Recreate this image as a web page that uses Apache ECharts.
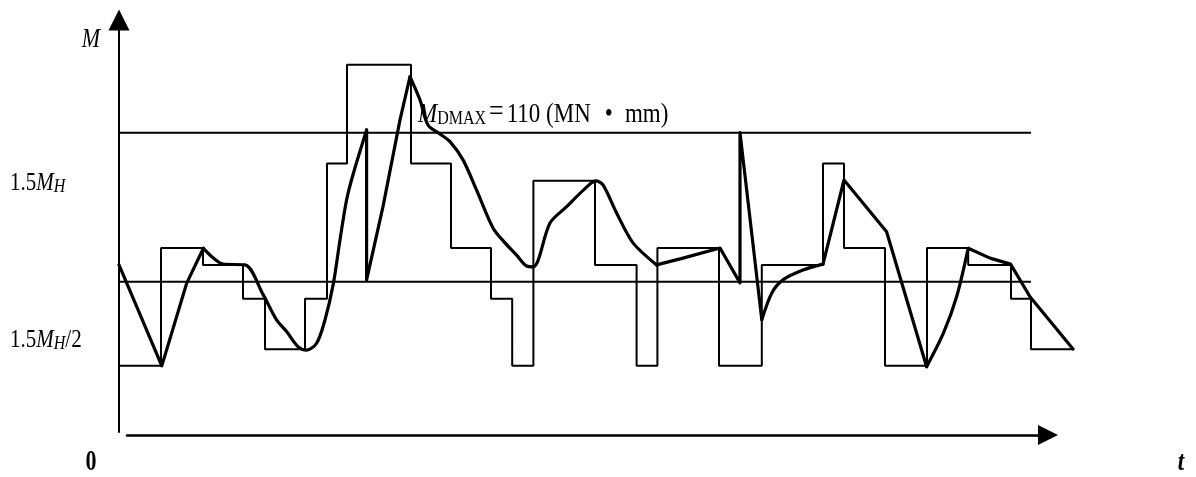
<!DOCTYPE html>
<html>
<head>
<meta charset="utf-8">
<script src="https://cdn.jsdelivr.net/npm/echarts@6/dist/echarts.min.js"></script>
<style>
html,body{margin:0;padding:0;background:#fff;}
#c{width:1196px;height:477px;}
</style>
</head>
<body>
<div id="c"></div>
<script>
// ---- data (t in arbitrary time units, M in MN·mm) ----
const stepT = [0, 10.5, 21, 31, 36.5, 46.5, 52, 57, 73, 83, 93, 98.3, 103.6, 119, 129.4, 134.6, 150, 160.7, 176, 181.25, 191.5, 202, 212.3, 223, 228, 238.6];
const stepM = [24.3, 67.6, 61.4, 49, 30.4, 49, 98.7, 135, 98.7, 67.6, 49, 24.3, 92.3, 61.4, 24.3, 67.6, 24.3, 61.4, 98.7, 67.6, 24.3, 67.6, 61.4, 49, 30.4, 30.4];

const curveT = [0, 10.7, 16.9, 21.1, 23.6, 26, 31.5, 36.1, 39.4, 41.9, 44.8, 46.9, 49.4, 51.5, 53.6, 55.25, 56.9, 58.6, 61.9, 61.9, 66, 70.25, 72.75, 75.25, 77.25, 80.25, 82.75, 86, 89.4, 93.5, 96.5, 99.4, 101.9, 103.6, 107.75, 111.9, 116.1, 119.2, 121, 124.4, 128.5, 134.4, 141, 150.25, 155.25, 155.25, 160.7, 163.2, 166, 171, 176, 181.25, 191.9, 201.9, 206.1, 209.4, 212.3, 217.75, 222.9, 227.75, 238.5];
const curveM = [61.4, 24.3, 54.6, 67.5, 63.9, 61.7, 61.4, 50.3, 41.2, 36.9, 31.3, 30.1, 32.6, 41.2, 54.6, 70.6, 85.3, 95.1, 111, 55.9, 82.8, 114.7, 130.6, 122, 112.8, 109.5, 106.7, 100, 88.9, 75, 69.5, 65, 61, 60.7, 76.8, 82.8, 88.9, 92.3, 90.8, 80.5, 69.5, 61.4, 63.9, 67.6, 54.8, 110, 41.2, 51.1, 55.9, 59.5, 61.7, 92.6, 73.6, 24, 36.3, 49.7, 67.5, 63.9, 61.7, 49.7, 30.5];
// index ranges of curveT/curveM that are drawn as smooth arcs; the rest are straight
const smoothRanges = [[3, 18], [22, 41], [46, 50], [53, 56]];
const straightRanges = [[0, 3], [18, 22], [41, 46], [50, 53], [56, 60]];

const mDmax = 110;
const mHalf = 55.2;
const refLineEnd = 228;

const stepData = stepT.map((t, i) => [t, stepM[i]]);
function pieces(ranges) {
  const out = [];
  ranges.forEach((r, k) => {
    if (k > 0) out.push(null);
    for (let i = r[0]; i <= r[1]; i++) out.push([curveT[i], curveM[i]]);
  });
  return out;
}

const serif = "'Liberation Serif', 'DejaVu Serif', serif";
const chart = echarts.init(document.getElementById('c'), null, {renderer: 'canvas'});

const labRich = {
  n: {fontFamily: serif, fontSize: 21, fill: '#000', lineHeight: 24, verticalAlign: 'bottom'},
  i: {fontFamily: serif, fontStyle: 'italic', fontSize: 21, fill: '#000', lineHeight: 24, verticalAlign: 'bottom'},
  s: {fontFamily: serif, fontStyle: 'italic', fontSize: 16, fill: '#000', lineHeight: 13, verticalAlign: 'bottom'}
};
const curveStyle = {color: '#000', width: 3.2, join: 'round', cap: 'round'};

chart.setOption({
  animation: false,
  backgroundColor: '#fff',
  grid: [
    {left: 119, top: 20, width: 960, height: 412},
    {left: 127, top: 20, width: 921, height: 415}
  ],
  xAxis: [
    {type: 'value', gridIndex: 0, min: 0, max: 240, show: false},
    {type: 'value', gridIndex: 1, min: 0, max: 1,
     axisLine: {show: true, symbol: ['none', 'triangle'], symbolSize: [20, 20], lineStyle: {color: '#000', width: 2.5}},
     axisTick: {show: false}, axisLabel: {show: false}, splitLine: {show: false}}
  ],
  yAxis: [
    {type: 'value', gridIndex: 0, min: 0, max: 151.4,
     axisLine: {show: true, symbol: ['none', 'triangle'], symbolSize: [21, 21], lineStyle: {color: '#000', width: 2}},
     axisTick: {show: false}, axisLabel: {show: false}, splitLine: {show: false}},
    {type: 'value', gridIndex: 1, min: 0, max: 1, show: false}
  ],
  series: [
    {type: 'line', xAxisIndex: 0, yAxisIndex: 0, data: [[0, mDmax], [refLineEnd, mDmax]], showSymbol: false, lineStyle: {color: '#000', width: 2}, silent: true},
    {type: 'line', xAxisIndex: 0, yAxisIndex: 0, data: [[0, mHalf], [refLineEnd, mHalf]], showSymbol: false, lineStyle: {color: '#000', width: 2}, silent: true},
    {type: 'line', xAxisIndex: 0, yAxisIndex: 0, step: 'end', data: stepData, showSymbol: false, lineStyle: {color: '#000', width: 2}, silent: true},
    {type: 'line', xAxisIndex: 0, yAxisIndex: 0, data: pieces(straightRanges), connectNulls: false, showSymbol: false, smooth: false, lineStyle: curveStyle, silent: true},
    {type: 'line', xAxisIndex: 0, yAxisIndex: 0, data: pieces(smoothRanges), connectNulls: false, showSymbol: false, smooth: 0.3, lineStyle: curveStyle, silent: true}
  ],
  graphic: [
    {type: 'text', x: 91, y: 40, scaleY: 1.2, style: {text: 'M', font: 'italic 22px ' + serif, fill: '#000', align: 'center', verticalAlign: 'middle'}},
    {type: 'text', x: 91, y: 463, scaleY: 1.3, style: {text: '0', font: 'bold 22px ' + serif, fill: '#000', align: 'center', verticalAlign: 'middle'}},
    {type: 'text', x: 1181, y: 463, scaleY: 1.2, style: {text: 't', font: 'italic bold 23px ' + serif, fill: '#000', align: 'center', verticalAlign: 'middle'}},
    {type: 'text', x: 10, y: 182, scaleY: 1.2, style: {
      text: '{n|1.5}{i|M}{s|H}', verticalAlign: 'middle', align: 'left', rich: labRich}},
    {type: 'text', x: 10, y: 339, scaleY: 1.2, style: {
      text: '{n|1.5}{i|M}{s|H}{n|/2}', verticalAlign: 'middle', align: 'left', rich: labRich}},
    {type: 'text', x: 418, y: 113, scaleY: 1.22, style: {
      text: '{i|M}{s|DMAX}{e|=}{n|110 (MN}{b|•}{n|mm)}', verticalAlign: 'middle', align: 'left',
      rich: {
        i: {fontFamily: serif, fontStyle: 'italic', fontSize: 23, fill: '#000', lineHeight: 26, verticalAlign: 'bottom'},
        s: {fontFamily: serif, fontSize: 16, fill: '#000', lineHeight: 15, verticalAlign: 'bottom'},
        e: {fontFamily: serif, fontSize: 26, fill: '#000', lineHeight: 26, verticalAlign: 'bottom', padding: [0, 3, 0, 3]},
        n: {fontFamily: serif, fontSize: 23, fill: '#000', lineHeight: 26, verticalAlign: 'bottom'},
        b: {fontFamily: serif, fontSize: 23, fill: '#000', lineHeight: 26, verticalAlign: 'bottom', padding: [0, 12, 0, 14]}
      }}}
  ]
});
</script>
</body>
</html>
